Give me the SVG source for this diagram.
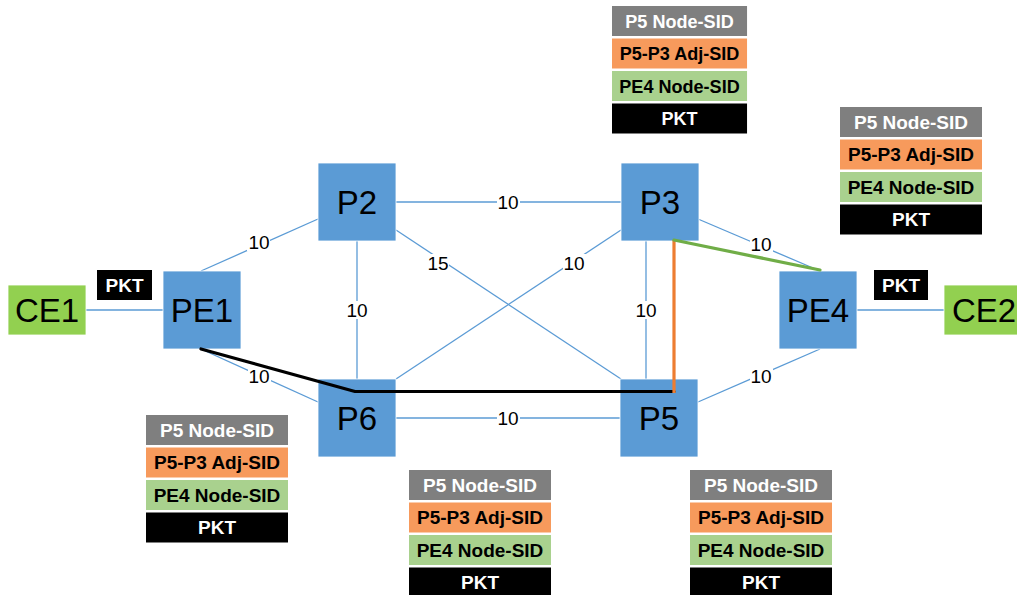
<svg xmlns="http://www.w3.org/2000/svg" width="1017" height="595" viewBox="0 0 1017 595">
  <style>
    .link { stroke: #5B9BD5; stroke-width: 1.3; fill: none; }
    .path-black { stroke: #000000; stroke-width: 3.2; fill: none; stroke-linejoin: round; stroke-linecap: round; }
    .path-orange { stroke: #ED7D31; stroke-width: 3.2; fill: none; }
    .path-green { stroke: #70AD47; stroke-width: 3.2; fill: none; stroke-linecap: round; }
    .router { fill: #5B9BD5; stroke: #FFFFFF; stroke-width: 0.8; }
    .ce { fill: #92D050; stroke: #FFFFFF; stroke-width: 0.8; }
    .nlabel { font-family: "Liberation Sans", Arial, sans-serif; font-size: 33px; fill: #000000; text-anchor: middle; }
    .metric { font-family: "Liberation Sans", Arial, sans-serif; font-size: 19px; fill: #000000; text-anchor: middle; }
    .mbg { fill: #FFFFFF; }
    .sid { font-family: "Liberation Sans", Arial, sans-serif; font-size: 19px; font-weight: bold; text-anchor: middle; }
    .r-gray { fill: #7F7F7F; }
    .r-orange { fill: #F79A5C; }
    .r-green { fill: #A9D18E; }
    .r-black { fill: #000000; }
    .t-white { fill: #FFFFFF; }
    .t-black { fill: #000000; }
  </style>
  <defs>
    <!-- label stack: node SID / adjacency SID / node SID / payload -->
    <g id="stack">
      <rect class="r-gray" x="0" y="0" width="142" height="30"/>
      <text class="sid t-white" x="71" y="21.8">P5 Node-SID</text>
      <rect class="r-orange" x="0" y="32.5" width="142" height="30"/>
      <text class="sid t-black" x="71" y="54.3">P5-P3 Adj-SID</text>
      <rect class="r-green" x="0" y="65" width="142" height="30"/>
      <text class="sid t-black" x="71" y="86.8">PE4 Node-SID</text>
      <rect class="r-black" x="0" y="97.5" width="142" height="30"/>
      <text class="sid t-white" x="71" y="119.3">PKT</text>
    </g>
  </defs>

  <rect x="0" y="0" width="1017" height="595" fill="#FFFFFF"/>

  <!-- links -->
  <g id="connectors">
    <line class="link" x1="86" y1="310" x2="163" y2="310"/>
    <line class="link" x1="857" y1="310" x2="944" y2="310"/>
    <line class="link" x1="201" y1="271" x2="318" y2="219"/>
    <line class="link" x1="201" y1="349" x2="318" y2="402"/>
    <line class="link" x1="396" y1="202" x2="621" y2="202"/>
    <line class="link" x1="357" y1="241" x2="357" y2="379"/>
    <line class="link" x1="396" y1="230" x2="621" y2="379"/>
    <line class="link" x1="621" y1="230" x2="396" y2="379"/>
    <line class="link" x1="646" y1="241" x2="646" y2="379"/>
    <line class="link" x1="698" y1="219" x2="820" y2="271"/>
    <line class="link" x1="698" y1="402" x2="820" y2="349"/>
    <line class="link" x1="396" y1="418" x2="621" y2="418"/>

    <!-- link metrics -->
    <g id="metrics">
      <rect class="mbg" x="247" y="233" width="23" height="18"/>
      <text class="metric" x="259" y="249">10</text>
      <rect class="mbg" x="248" y="367" width="23" height="18"/>
      <text class="metric" x="259" y="383">10</text>
      <rect class="mbg" x="497" y="193" width="23" height="18"/>
      <text class="metric" x="508" y="209">10</text>
      <rect class="mbg" x="346" y="301" width="23" height="18"/>
      <text class="metric" x="357" y="317">10</text>
      <rect class="mbg" x="426" y="254" width="23" height="18"/>
      <text class="metric" x="438" y="270">15</text>
      <rect class="mbg" x="563" y="254" width="23" height="18"/>
      <text class="metric" x="574" y="270">10</text>
      <rect class="mbg" x="635" y="301" width="23" height="18"/>
      <text class="metric" x="646" y="317">10</text>
      <rect class="mbg" x="750" y="235" width="23" height="18"/>
      <text class="metric" x="761" y="251">10</text>
      <rect class="mbg" x="750" y="367" width="23" height="18"/>
      <text class="metric" x="761" y="383">10</text>
      <rect class="mbg" x="497" y="409" width="23" height="18"/>
      <text class="metric" x="508" y="425">10</text>
    </g>
  </g>

  <!-- nodes -->
  <g id="CE1">
    <rect class="ce" x="8" y="285" width="78" height="50"/>
    <text class="nlabel" x="47" y="322">CE1</text>
  </g>
  <g id="CE2">
    <rect class="ce" x="944" y="285" width="78" height="50"/>
    <text class="nlabel" x="984" y="322">CE2</text>
  </g>
  <g id="PE1">
    <rect class="router" x="163" y="271" width="78" height="78"/>
    <text class="nlabel" x="202" y="322">PE1</text>
  </g>
  <g id="P2">
    <rect class="router" x="318" y="163" width="78" height="78"/>
    <text class="nlabel" x="357" y="214">P2</text>
  </g>
  <g id="P3">
    <rect class="router" x="621" y="163" width="78" height="78"/>
    <text class="nlabel" x="660" y="214">P3</text>
  </g>
  <g id="P6">
    <rect class="router" x="318" y="379" width="78" height="78"/>
    <text class="nlabel" x="357" y="430">P6</text>
  </g>
  <g id="P5">
    <rect class="router" x="620" y="379" width="78" height="78"/>
    <text class="nlabel" x="659" y="430">P5</text>
  </g>
  <g id="PE4">
    <rect class="router" x="779" y="271" width="78" height="78"/>
    <text class="nlabel" x="818" y="322">PE4</text>
  </g>

  <!-- forwarding path PE1 -> P6 -> P5 -> P3 -> PE4, drawn over the nodes -->
  <g id="forwarding-path">
    <polyline class="path-black" points="201,349 355,391.5 674,391.5"/>
    <line class="path-orange" x1="674" y1="240" x2="674" y2="393"/>
    <line class="path-green" x1="674" y1="240" x2="820" y2="270"/>
  </g>

  <!-- plain packet tags on the CE links -->
  <g id="pkt-ce1">
    <rect class="r-black" x="97" y="270" width="55" height="30"/>
    <text class="sid t-white" x="124.5" y="291.8">PKT</text>
  </g>
  <g id="pkt-ce2">
    <rect class="r-black" x="874" y="270" width="54" height="30"/>
    <text class="sid t-white" x="901" y="291.8">PKT</text>
  </g>

  <!-- SID stacks along the path -->
  <g id="stack-pe1"><use href="#stack" x="146" y="415"/></g>
  <g id="stack-p6"><use href="#stack" x="409" y="470"/></g>
  <g id="stack-p5"><use href="#stack" x="690" y="470"/></g>
  <g id="stack-p3"><use href="#stack" x="612" y="6" transform="translate(612 6) scale(0.951 1) translate(-612 -6)"/></g>
  <g id="stack-pe4"><use href="#stack" x="840" y="107"/></g>
</svg>
